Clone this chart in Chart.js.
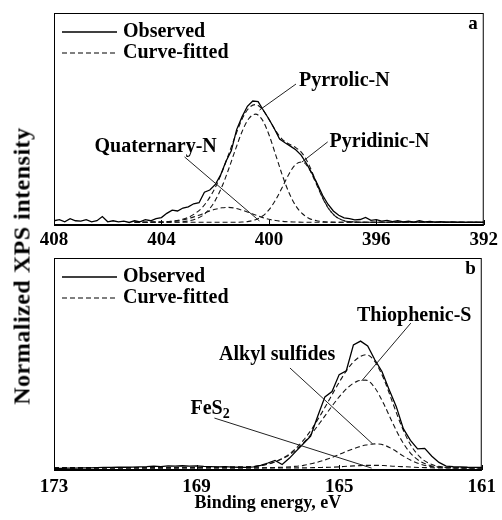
<!DOCTYPE html>
<html>
<head>
<meta charset="utf-8">
<script src="https://cdn.jsdelivr.net/npm/chart.js@4.4.0/dist/chart.umd.min.js"></script>
<style>
  html, body { margin: 0; padding: 0; background: #fff; }
  #wrap { position: relative; width: 502px; height: 520px; overflow: hidden; }
  #chartN { position: absolute; left: 0; top: 0; }
  #chartS { position: absolute; left: 0; top: 252px; }
  #ytitle {
    position: absolute; left: 22px; top: 266px;
    transform: translate(-50%, -50%) rotate(-90deg);
    font: bold 24px "Liberation Serif", "Times New Roman", serif;
    letter-spacing: 0.5px;
    white-space: nowrap; color: #000;
  }
</style>
</head>
<body>
<div id="wrap">
  <canvas id="chartN" width="502" height="252"></canvas>
  <canvas id="chartS" width="502" height="268"></canvas>
  <div id="ytitle">Normalized XPS intensity</div>
</div>
<script>
const FONT = '"Liberation Serif", "Times New Roman", serif';

// ---- N 1s spectrum ----
const nObsEnergy = [
  408.0, 407.8, 407.6, 407.4, 407.2, 407.0, 406.8, 406.6, 406.4, 406.2,
  406.0, 405.8, 405.6, 405.4, 405.2, 405.0, 404.8, 404.6, 404.4, 404.2,
  404.0, 403.8, 403.6, 403.4, 403.2, 403.0, 402.8, 402.6, 402.4, 402.2,
  402.0, 401.8, 401.6, 401.4, 401.2, 401.0, 400.8, 400.6, 400.4, 400.2,
  400.0, 399.8, 399.6, 399.4, 399.2, 399.0, 398.8, 398.6, 398.4, 398.2,
  398.0, 397.8, 397.6, 397.4, 397.2, 397.0, 396.8, 396.6, 396.4, 396.2,
  396.0, 395.8, 395.6, 395.4, 395.2, 395.0, 394.8, 394.6, 394.4, 394.2,
  394.0, 393.8, 393.6, 393.4, 393.2, 393.0, 392.8, 392.6, 392.4, 392.2,
  392.0
];
const nObserved = [
  0.020, 0.025, 0.015, 0.030, 0.020, 0.018, 0.025, 0.015, 0.020, 0.040,
  0.015, 0.020, 0.015, 0.018, 0.012, 0.020, 0.015, 0.025, 0.020, 0.030,
  0.035, 0.055, 0.070, 0.066, 0.080, 0.086, 0.100, 0.105, 0.155, 0.165,
  0.190, 0.235, 0.300, 0.350, 0.450, 0.510, 0.560, 0.585, 0.582, 0.540,
  0.500, 0.455, 0.405, 0.388, 0.372, 0.355, 0.330, 0.290, 0.245, 0.195,
  0.140, 0.098, 0.066, 0.046, 0.034, 0.030, 0.024, 0.026, 0.036, 0.022,
  0.025, 0.018, 0.022, 0.016, 0.020, 0.015, 0.018, 0.014, 0.020, 0.015,
  0.017, 0.014, 0.016, 0.013, 0.015, 0.013, 0.014, 0.012, 0.014, 0.012,
  0.013
];
const nFitEnergy = [
  405.0, 404.75, 404.5, 404.25, 404.0, 403.75, 403.5, 403.25, 403.0, 402.75,
  402.5, 402.25, 402.0, 401.75, 401.5, 401.25, 401.0, 400.75, 400.5, 400.25,
  400.0, 399.75, 399.5, 399.25, 399.0, 398.75, 398.5, 398.25, 398.0, 397.75,
  397.5, 397.25, 397.0, 396.75, 396.5, 392.0
];
const nPyrrolic = [
  0.013, 0.013, 0.013, 0.013, 0.013, 0.013, 0.014, 0.015, 0.019, 0.027,
  0.042, 0.070, 0.115, 0.180, 0.263, 0.354, 0.440, 0.501, 0.523, 0.497,
  0.427, 0.332, 0.235, 0.152, 0.091, 0.053, 0.031, 0.021, 0.016, 0.014,
  0.013, 0.013, 0.013, 0.013, 0.013, 0.013
];
const nPyridinic = [
  0.013, 0.013, 0.013, 0.013, 0.013, 0.013, 0.013, 0.013, 0.013, 0.013,
  0.013, 0.013, 0.013, 0.013, 0.013, 0.013, 0.014, 0.017, 0.025, 0.041,
  0.071, 0.118, 0.178, 0.241, 0.286, 0.297, 0.264, 0.198, 0.127, 0.072,
  0.039, 0.022, 0.016, 0.014, 0.013, 0.013
];
const nQuaternary = [
  0.013, 0.013, 0.013, 0.014, 0.014, 0.016, 0.019, 0.023, 0.030, 0.040,
  0.051, 0.064, 0.074, 0.081, 0.083, 0.079, 0.070, 0.059, 0.047, 0.036,
  0.027, 0.021, 0.017, 0.015, 0.014, 0.013, 0.013, 0.013, 0.013, 0.013,
  0.013, 0.013, 0.013, 0.013, 0.013, 0.013
];
const nEnvelope = [
  0.013, 0.013, 0.013, 0.014, 0.014, 0.016, 0.019, 0.026, 0.036, 0.054,
  0.080, 0.121, 0.176, 0.248, 0.333, 0.420, 0.499, 0.551, 0.568, 0.547,
  0.499, 0.445, 0.404, 0.382, 0.365, 0.337, 0.282, 0.206, 0.130, 0.073,
  0.039, 0.022, 0.016, 0.014, 0.013, 0.013
];
const nTicks = [392, 408];

// ---- S 2p spectrum ----
const sObsEnergy = [
  173.0, 172.8, 172.6, 172.4, 172.2, 172.0, 171.8, 171.6, 171.4, 171.2,
  171.0, 170.8, 170.6, 170.4, 170.2, 170.0, 169.8, 169.6, 169.4, 169.2,
  169.0, 168.8, 168.6, 168.4, 168.2, 168.0, 167.8, 167.6, 167.4, 167.2,
  167.0, 166.8, 166.6, 166.4, 166.2, 166.0, 165.8, 165.6, 165.4, 165.2,
  165.0, 164.8, 164.6, 164.4, 164.2, 164.0, 163.8, 163.6, 163.4, 163.2,
  163.0, 162.8, 162.6, 162.4, 162.2, 162.0, 161.8, 161.6, 161.4, 161.2,
  161.0
];
const sObserved = [
  0.008, 0.008, 0.009, 0.009, 0.010, 0.010, 0.011, 0.012, 0.012, 0.013,
  0.013, 0.014, 0.015, 0.016, 0.018, 0.016, 0.019, 0.018, 0.020, 0.018,
  0.019, 0.017, 0.016, 0.015, 0.016, 0.014, 0.013, 0.012, 0.015, 0.022,
  0.033, 0.045, 0.026, 0.055, 0.090, 0.125, 0.160, 0.255, 0.345, 0.370,
  0.450, 0.468, 0.590, 0.608, 0.585, 0.520, 0.465, 0.380, 0.300, 0.195,
  0.140, 0.100, 0.102, 0.065, 0.036, 0.018, 0.016, 0.015, 0.013, 0.012,
  0.012
];
const sFitEnergy = [
  173.0, 167.5, 167.25, 167.0, 166.75, 166.5, 166.25, 166.0, 165.75, 165.5,
  165.25, 165.0, 164.75, 164.5, 164.25, 164.0, 163.75, 163.5, 163.25, 163.0,
  162.75, 162.5, 162.25, 162.0, 161.75, 161.5, 161.0
];
const sThiophenic = [
  0.010, 0.015, 0.019, 0.027, 0.041, 0.061, 0.089, 0.128, 0.176, 0.232,
  0.290, 0.345, 0.390, 0.418, 0.424, 0.388, 0.312, 0.222, 0.140, 0.080,
  0.043, 0.024, 0.015, 0.012, 0.010, 0.010, 0.010
];
const sAlkyl = [
  0.010, 0.010, 0.010, 0.011, 0.012, 0.014, 0.017, 0.022, 0.031, 0.042,
  0.056, 0.073, 0.091, 0.106, 0.118, 0.123, 0.118, 0.098, 0.071, 0.047,
  0.029, 0.018, 0.013, 0.011, 0.010, 0.010, 0.010
];
const sFeS2 = [
  0.010, 0.010, 0.010, 0.010, 0.010, 0.010, 0.010, 0.010, 0.011, 0.012,
  0.013, 0.015, 0.018, 0.020, 0.022, 0.022, 0.021, 0.018, 0.016, 0.014,
  0.012, 0.011, 0.010, 0.010, 0.010, 0.010, 0.010
];
const sEnvelope = [
  0.010, 0.015, 0.020, 0.028, 0.042, 0.064, 0.096, 0.141, 0.198, 0.266,
  0.340, 0.414, 0.479, 0.525, 0.544, 0.512, 0.430, 0.318, 0.207, 0.120,
  0.064, 0.033, 0.018, 0.013, 0.011, 0.010, 0.010
];
const sTicks = [161, 173];

// peak labels: text anchored at its left/middle, leader line from -> to (data units)
const nNotes = [
  { text: 'Pyrrolic-N', at: [398.88, 0.679], from: [398.99, 0.665], to: [400.35, 0.542] },
  { text: 'Quaternary-N', at: [406.49, 0.370], from: [403.14, 0.321], to: [400.35, 0.019] },
  { text: 'Pyridinic-N', at: [397.74, 0.394], from: [397.81, 0.392], to: [398.77, 0.297] }
];
const sNotes = [
  { text: 'Thiophenic-S', at: [164.50, 0.726], from: [162.99, 0.693], to: [164.37, 0.420] },
  { text: 'Alkyl sulfides', at: [168.37, 0.542], from: [166.38, 0.481], to: [164.06, 0.123] },
  { text: 'FeS', sub: '2', at: [169.17, 0.288], from: [168.50, 0.245], to: [164.09, 0.009] }
];

function pairs(xs, ys) {
  return xs.map((x, i) => ({ x: x, y: ys[i] }));
}

function observedSet(xs, ys) {
  return {
    data: pairs(xs, ys),
    borderColor: '#000',
    borderWidth: 1.3,
    pointRadius: 0,
    tension: 0
  };
}

function fittedSet(xs, ys) {
  return {
    data: pairs(xs, ys),
    borderColor: '#151515',
    borderWidth: 1.1,
    borderDash: [5, 3],
    pointRadius: 0,
    cubicInterpolationMode: 'monotone'
  };
}

// frame, inward ticks, key, panel letter and peak labels
const panelDecor = {
  id: 'panelDecor',
  afterDraw(chart, args, opts) {
    const { ctx, chartArea: a, scales } = chart;
    const xs = scales.x, ys = scales.y;
    ctx.save();

    ctx.strokeStyle = '#000';
    ctx.lineWidth = 1;
    ctx.strokeRect(a.left + 0.5, a.top + 0.5, a.right - a.left - 1, a.bottom - a.top);
    ctx.lineWidth = 2;
    ctx.beginPath();
    ctx.moveTo(a.left, a.bottom);
    ctx.lineTo(a.right, a.bottom);
    ctx.stroke();

    ctx.lineWidth = 1;
    xs.ticks.forEach(t => {
      const px = Math.round(xs.getPixelForValue(t.value)) + 0.5;
      ctx.beginPath();
      ctx.moveTo(px, a.bottom);
      ctx.lineTo(px, a.bottom - 5);
      ctx.stroke();
    });

    // key
    const kx = a.left + 8, kw = 55;
    const ky = [a.top + 19, a.top + 40];
    ctx.lineWidth = 1.3;
    ctx.beginPath();
    ctx.moveTo(kx, ky[0]);
    ctx.lineTo(kx + kw, ky[0]);
    ctx.stroke();
    ctx.lineWidth = 1.1;
    ctx.setLineDash([5, 3]);
    ctx.beginPath();
    ctx.moveTo(kx, ky[1]);
    ctx.lineTo(kx + kw, ky[1]);
    ctx.stroke();
    ctx.setLineDash([]);

    ctx.fillStyle = '#000';
    ctx.textBaseline = 'middle';
    ctx.textAlign = 'left';
    ctx.font = 'bold 20px ' + FONT;
    ctx.fillText('Observed', kx + kw + 6, ky[0]);
    ctx.fillText('Curve-fitted', kx + kw + 6, ky[1]);

    ctx.font = 'bold 19px ' + FONT;
    ctx.textAlign = 'right';
    ctx.fillText(opts.letter, a.right - 6, a.top + 11);

    // peak labels
    ctx.textAlign = 'left';
    ctx.strokeStyle = '#222';
    ctx.lineWidth = 1;
    opts.notes.forEach(n => {
      ctx.beginPath();
      ctx.moveTo(xs.getPixelForValue(n.from[0]), ys.getPixelForValue(n.from[1]));
      ctx.lineTo(xs.getPixelForValue(n.to[0]), ys.getPixelForValue(n.to[1]));
      ctx.stroke();

      const tx = xs.getPixelForValue(n.at[0]);
      const ty = ys.getPixelForValue(n.at[1]);
      ctx.font = 'bold 20px ' + FONT;
      ctx.fillText(n.text, tx, ty);
      if (n.sub) {
        const w = ctx.measureText(n.text).width;
        ctx.font = 'bold 14px ' + FONT;
        ctx.fillText(n.sub, tx + w, ty + 5);
      }
    });

    ctx.restore();
  }
};

function panelOptions(range, pad, axisHeight, title, letter, notes) {
  return {
    responsive: false,
    animation: false,
    layout: { padding: pad },
    plugins: {
      legend: { display: false },
      tooltip: { enabled: false },
      panelDecor: { letter: letter, notes: notes }
    },
    scales: {
      x: {
        type: 'linear',
        reverse: true,
        min: range[0],
        max: range[1],
        ticks: {
          stepSize: 4,
          color: '#000',
          padding: title ? 6 : 4,
          maxRotation: 0,
          autoSkip: false,
          font: { family: FONT, size: 19, weight: 'bold' }
        },
        grid: { display: false, drawTicks: false },
        border: { display: false },
        title: {
          display: !!title,
          text: title || '',
          color: '#000',
          padding: { top: 0, bottom: 6 },
          font: { family: FONT, size: 18, weight: 'bold' }
        },
        afterFit: s => { s.height = axisHeight; }
      },
      y: {
        min: 0,
        max: 1,
        ticks: { display: false },
        grid: { display: false, drawTicks: false },
        border: { display: false },
        afterFit: s => { s.width = 54; }
      }
    }
  };
}

new Chart(document.getElementById('chartN'), {
  type: 'line',
  data: {
    datasets: [
      observedSet(nObsEnergy, nObserved),
      fittedSet(nFitEnergy, nEnvelope),
      fittedSet(nFitEnergy, nPyrrolic),
      fittedSet(nFitEnergy, nPyridinic),
      fittedSet(nFitEnergy, nQuaternary)
    ]
  },
  options: panelOptions(nTicks, { top: 13, right: 13, left: 0, bottom: 0 }, 27, null, 'a', nNotes),
  plugins: [panelDecor]
});

new Chart(document.getElementById('chartS'), {
  type: 'line',
  data: {
    datasets: [
      observedSet(sObsEnergy, sObserved),
      fittedSet(sFitEnergy, sEnvelope),
      fittedSet(sFitEnergy, sThiophenic),
      fittedSet(sFitEnergy, sAlkyl),
      fittedSet(sFitEnergy, sFeS2)
    ]
  },
  options: panelOptions(sTicks, { top: 6, right: 13, left: 0, bottom: 0 }, 50, 'Binding energy, eV', 'b', sNotes),
  plugins: [panelDecor]
});
</script>
</body>
</html>
